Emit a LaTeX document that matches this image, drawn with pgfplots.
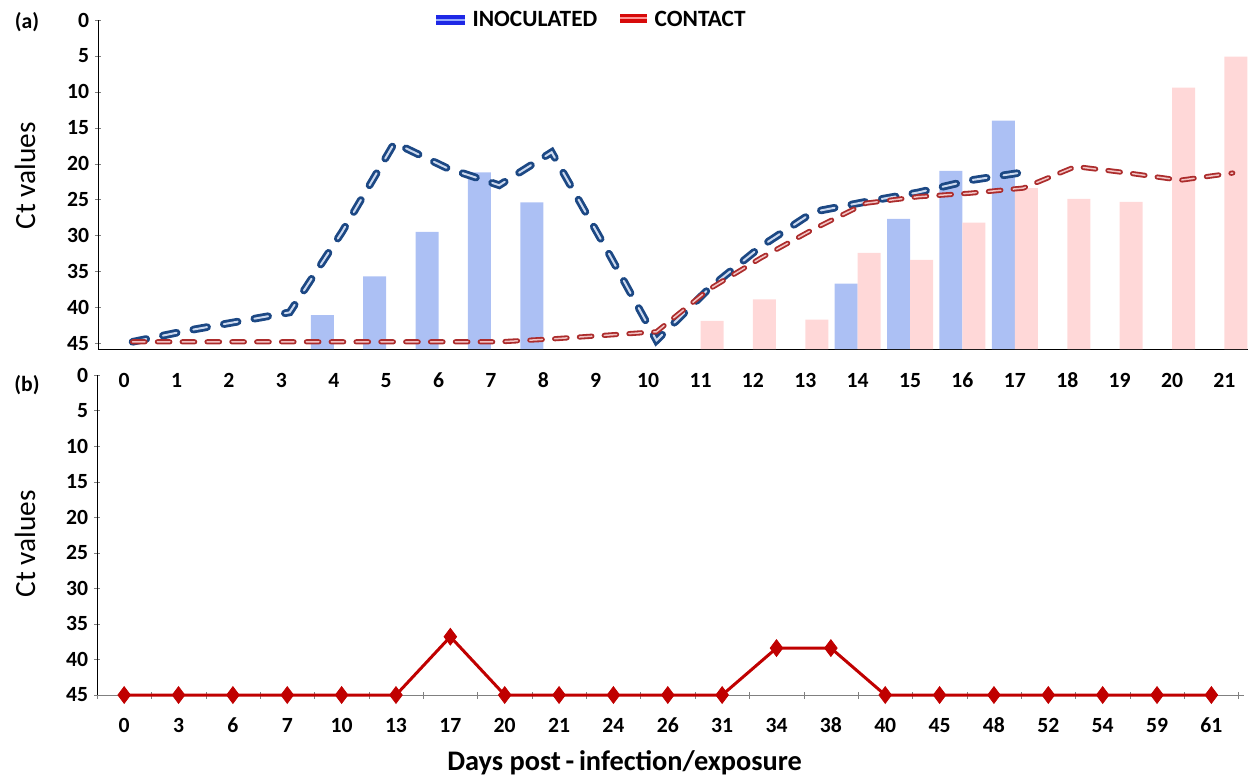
\documentclass[border=0pt]{standalone}
\usepackage{pgfplots}
\pgfplotsset{compat=1.18}
\usepackage{pgfplotstable}
\usepackage{fontspec}
\setmainfont{Carlito}

\definecolor{inocLine}{RGB}{28,72,132}
\definecolor{inocCore}{RGB}{205,218,240}
\definecolor{contLine}{RGB}{172,44,44}
\definecolor{contCore}{RGB}{242,196,196}
\definecolor{inocBar}{RGB}{172,192,244}
\definecolor{contBar}{RGB}{255,216,216}
\definecolor{legBlue}{RGB}{30,40,230}
\definecolor{legBlueCore}{RGB}{150,170,255}
\definecolor{legRed}{RGB}{215,10,10}
\definecolor{legRedCore}{RGB}{255,150,150}
\definecolor{bRed}{RGB}{192,0,0}

% Panel (a) bars (Ct values)
\pgfplotstableread{
day ct
4 41.1
5 35.7
6 29.5
7 21.2
8 25.4
14 36.7
15 27.7
16 21.0
17 14.0
}\inocbars
\pgfplotstableread{
day ct
11 41.9
12 38.9
13 41.7
14 32.4
15 33.4
16 28.2
17 23.4
18 24.9
19 25.3
20 9.4
21 5.1
}\contbars
% Panel (a) lines (Ct values)
\pgfplotstableread{
day ct
0 44.8
1 43.3
2 42.0
3 40.7
4 29.5
5 17.1
6 20.6
7 23.0
8 18.4
9 31.3
10 44.6
11 37.4
12 31.5
13 26.7
14 25.3
15 24.0
16 22.3
17 21.2
}\inocline
\pgfplotstableread{
day ct
0 44.8
1 44.8
2 44.8
3 44.8
4 44.8
5 44.8
6 44.8
7 44.8
8 44.4
9 43.9
10 43.4
11 37.5
12 33.1
13 29.1
14 25.5
15 24.6
16 24.1
17 23.4
18 20.4
19 21.3
20 22.3
21 21.3
}\contline
% Panel (b)
\pgfplotstableread{
idx day ct
0 0 45
1 3 45
2 6 45
3 7 45
4 10 45
5 13 45
6 17 36.8
7 20 45
8 21 45
9 24 45
10 26 45
11 31 45
12 34 38.4
13 38 38.4
14 40 45
15 45 45
16 48 45
17 52 45
18 54 45
19 59 45
20 61 45
}\panelb

\begin{document}
\begin{tikzpicture}
\useasboundingbox (0,0) rectangle (750pt,-466.8pt);

\pgfplotsset{
  every axis/.append style={
    scale only axis,
    /pgf/number format/assume math mode=true,
    tick label style={font=\bfseries\fontsize{13}{15}\selectfont},
    tick align=outside,
  }
}

% ---------------- Panel (a) ----------------
\begin{axis}[
  at={(58.8pt,-209.4pt)}, anchor=south west,
  width=690pt, height=197.4pt,
  axis x line=bottom, axis y line=left,
  axis line style={-},
  xmin=-0.5, xmax=21.45,
  ymin=0, ymax=45.8,
  xtick={0,...,21},
  major x tick style={draw=none},
  xticklabel style={anchor=base, yshift=-21pt},
  ytick={0.8,5.8,10.8,15.8,20.8,25.8,30.8,35.8,40.8,45.8},
  yticklabels={45,40,35,30,25,20,15,10,5,0},
  major tick length=3.6pt,
  ylabel={Ct values},
  ylabel style={at={(axis description cs:-0.0635,0.526)}, anchor=center,
    font=\fontsize{17.6}{20}\selectfont},
  legend style={at={(axis description cs:0.428,1)}, anchor=center,
    draw=none, fill=none, legend columns=2,
    font=\bfseries\fontsize{14}{16}\selectfont,
    /tikz/every even column/.append style={column sep=9pt}},
  legend cell align=left,
  clip=false,
]
\addplot[ybar, bar width=13.8pt, bar shift=-6.9pt, fill=inocBar, draw=none, forget plot]
  table[x=day, y expr=45.8-\thisrow{ct}] {\inocbars};
\addplot[ybar, bar width=13.8pt, bar shift=6.9pt, fill=contBar, draw=none, forget plot]
  table[x=day, y expr=45.8-\thisrow{ct}] {\contbars};

\addplot[draw=inocLine, line width=1.7pt, double=inocCore, double distance=1.2pt,
  line cap=round, dash pattern=on 8.4pt off 10.2pt, xshift=5pt,
  legend image code/.code={\draw[solid, line cap=butt, draw=legBlue, line width=2.2pt, double=legBlueCore, double distance=1.3pt] (0pt,0pt) -- (17pt,0pt);}]
  table[x=day, y expr=45.8-\thisrow{ct}] {\inocline};
\addplot[draw=contLine, line width=1.1pt, double=contCore, double distance=0.9pt,
  line cap=round, dash pattern=on 7.5pt off 7.4pt, xshift=5pt,
  legend image code/.code={\draw[solid, line cap=butt, draw=legRed, line width=2.1pt, double=legRedCore, double distance=1.2pt] (0pt,1pt) -- (16pt,1pt);}]
  table[x=day, y expr=45.8-\thisrow{ct}] {\contline};
\legend{INOCULATED,CONTACT}
\end{axis}

% ---------------- Panel (b) ----------------
\begin{axis}[
  at={(58.2pt,-417pt)}, anchor=south west,
  width=688.2pt, height=192pt,
  axis x line=bottom, axis y line=left,
  axis line style={-},
  x axis line style={gray},
  y dir=reverse,
  xmin=-0.5, xmax=20.6,
  ymin=0, ymax=45,
  xtick={0,...,20},
  xticklabels={0,3,6,7,10,13,17,20,21,24,26,31,34,38,40,45,48,52,54,59,61},
  major x tick style={draw=none},
  minor xtick={-0.5,0.5,...,20.5},
  minor x tick style={gray},
  minor tick length=4.2pt,
  xticklabel style={anchor=base, yshift=-20.4pt},
  ytick={0,5,...,45},
  yticklabels={0,5,10,15,20,25,30,35,40,45},
  major tick length=3.6pt,
  ylabel={Ct values},
  ylabel style={at={(axis description cs:-0.0628,0.472)}, anchor=center,
    font=\fontsize{17.6}{20}\selectfont},
  xlabel={Days post\,-\,infection/exposure},
  xlabel style={at={(axis description cs:0.46,-0.2125)}, anchor=center,
    font=\bfseries\fontsize{17}{20}\selectfont},
  clip=false,
]
\addplot[color=bRed, line width=1.8pt, mark=diamond*, mark size=5pt,
  mark options={fill=bRed, draw=bRed, line width=0.5pt}]
  table[x=idx, y=ct] {\panelb};
\end{axis}

\node[font=\bfseries\fontsize{13}{15}\selectfont] at (16.2pt,-13.5pt) {(a)};
\node[font=\bfseries\fontsize{13}{15}\selectfont] at (16.2pt,-231pt) {(b)};
\end{tikzpicture}
\end{document}
